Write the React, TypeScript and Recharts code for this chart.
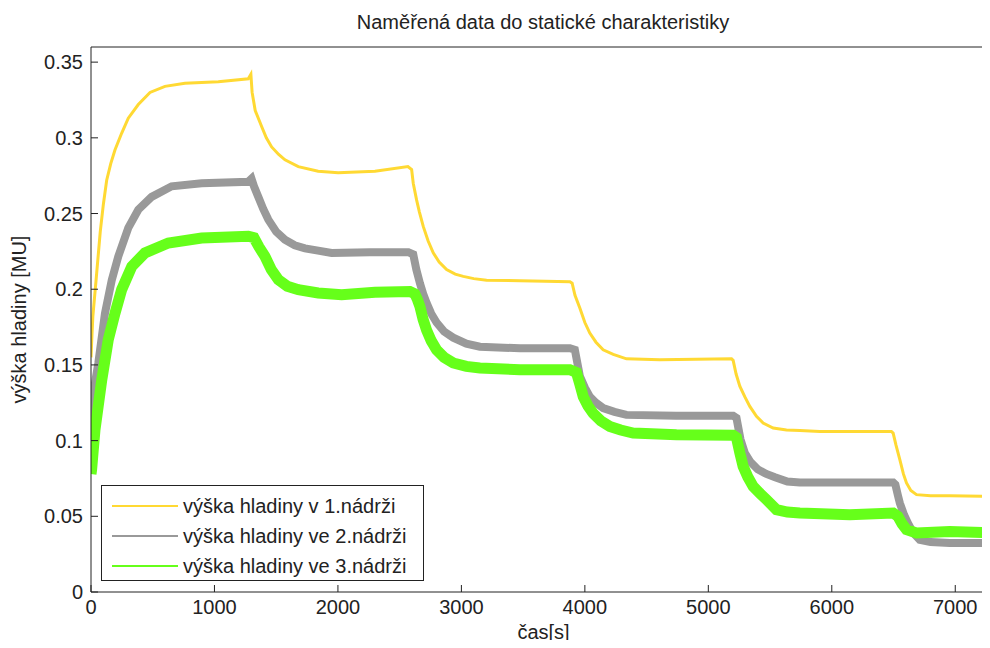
import React from "react";
import { LineChart, Line, XAxis, YAxis, Legend } from "recharts";

// cas [s] a vyska hladiny
const timeTank1 = [0, 8, 15, 40, 75, 100, 127, 160, 194, 248, 302, 383, 478, 599, 761, 1031, 1274, 1295, 1305, 1330, 1382, 1420, 1463, 1520, 1571, 1679, 1840, 2002, 2300, 2567, 2597, 2610, 2637, 2660, 2691, 2730, 2772, 2820, 2880, 2950, 3015, 3100, 3204, 3474, 3879, 3897, 3920, 3960, 4000, 4040, 4090, 4148, 4230, 4337, 4607, 5188, 5201, 5225, 5255, 5295, 5336, 5390, 5444, 5525, 5633, 5741, 5903, 6483, 6497, 6520, 6551, 6580, 6605, 6640, 6686, 6800, 6955, 7330];
const levelTank1 = [0.155, 0.17, 0.182, 0.205, 0.238, 0.256, 0.272, 0.283, 0.292, 0.303, 0.313, 0.322, 0.33, 0.334, 0.336, 0.337, 0.339, 0.342, 0.33, 0.318, 0.3075, 0.3, 0.294, 0.289, 0.2855, 0.281, 0.278, 0.277, 0.278, 0.281, 0.279, 0.27, 0.259, 0.251, 0.2415, 0.232, 0.224, 0.218, 0.213, 0.21, 0.2085, 0.207, 0.206, 0.2056, 0.205, 0.204, 0.196, 0.1875, 0.178, 0.171, 0.165, 0.16, 0.157, 0.154, 0.1534, 0.154, 0.153, 0.144, 0.136, 0.129, 0.1226, 0.116, 0.1116, 0.1083, 0.107, 0.1067, 0.106, 0.106, 0.105, 0.097, 0.0874, 0.078, 0.072, 0.067, 0.0643, 0.0636, 0.0636, 0.0632];

const timeTank2 = [0, 5, 59, 113, 168, 221, 302, 383, 491, 653, 896, 1274, 1300, 1320, 1355, 1395, 1436, 1500, 1571, 1650, 1733, 1949, 2259, 2570, 2610, 2635, 2664, 2690, 2718, 2755, 2799, 2860, 2934, 3040, 3150, 3474, 3879, 3919, 3940, 3960, 4000, 4040, 4090, 4148, 4240, 4337, 4742, 5201, 5228, 5260, 5295, 5340, 5400, 5470, 5540, 5640, 5741, 6497, 6515, 6535, 6551, 6585, 6620, 6660, 6712, 6800, 6955, 7330];
const levelTank2 = [0.105, 0.125, 0.151, 0.184, 0.206, 0.2217, 0.2405, 0.2525, 0.261, 0.268, 0.27, 0.271, 0.273, 0.268, 0.261, 0.253, 0.246, 0.238, 0.2327, 0.229, 0.227, 0.224, 0.2245, 0.2245, 0.223, 0.213, 0.204, 0.197, 0.191, 0.184, 0.178, 0.172, 0.168, 0.164, 0.162, 0.161, 0.161, 0.16, 0.151, 0.1424, 0.135, 0.129, 0.125, 0.1215, 0.119, 0.117, 0.1165, 0.1165, 0.115, 0.101, 0.092, 0.086, 0.081, 0.078, 0.0758, 0.073, 0.0724, 0.0724, 0.071, 0.064, 0.0588, 0.051, 0.045, 0.039, 0.0345, 0.033, 0.0324, 0.0324];

const timeTank3 = [0, 5, 32, 87, 140, 194, 248, 330, 437, 626, 896, 1274, 1320, 1360, 1409, 1460, 1517, 1590, 1679, 1840, 2030, 2300, 2583, 2623, 2645, 2664, 2690, 2718, 2755, 2799, 2860, 2934, 3040, 3150, 3474, 3879, 3932, 3960, 3987, 4025, 4068, 4130, 4202, 4290, 4391, 4742, 5201, 5228, 5255, 5282, 5320, 5363, 5420, 5471, 5552, 5640, 5741, 6146, 6497, 6535, 6570, 6605, 6686, 6955, 7330];
const levelTank3 = [0.078, 0.081, 0.107, 0.14, 0.1667, 0.184, 0.1997, 0.215, 0.224, 0.2305, 0.2338, 0.235, 0.234, 0.228, 0.2217, 0.213, 0.2063, 0.202, 0.1997, 0.1975, 0.1964, 0.198, 0.1985, 0.197, 0.193, 0.1886, 0.18, 0.173, 0.166, 0.16, 0.155, 0.1513, 0.149, 0.148, 0.1468, 0.1468, 0.145, 0.137, 0.129, 0.123, 0.118, 0.113, 0.1094, 0.107, 0.105, 0.1039, 0.1035, 0.102, 0.092, 0.083, 0.076, 0.0697, 0.065, 0.061, 0.0544, 0.0528, 0.0522, 0.051, 0.0522, 0.05, 0.045, 0.0412, 0.039, 0.04, 0.039];

const xTicks = [0, 1000, 2000, 3000, 4000, 5000, 6000, 7000];
const yTicks = [0, 0.05, 0.1, 0.15, 0.2, 0.25, 0.3, 0.35];

const seriesNames = [
  "výška hladiny v 1.nádrži",
  "výška hladiny ve 2.nádrži",
  "výška hladiny ve 3.nádrži",
];
const seriesColors = ["#ffd933", "#999999", "#66ff1a"];
const seriesWidths = [3, 8, 11];

const toPoints = (t: number[], v: number[]) => t.map((x, i) => ({ t: x, v: v[i] }));
const seriesData = [
  toPoints(timeTank1, levelTank1),
  toPoints(timeTank2, levelTank2),
  toPoints(timeTank3, levelTank3),
];

const FONT = '"Liberation Sans", Arial, Helvetica, sans-serif';
const INK = "#222";
const tickStyle = { fontSize: 20, fill: INK, fontFamily: FONT };

const renderLegend = () => (
  <div
    style={{
      border: `1px solid ${INK}`,
      background: "#fff",
      padding: "5px 10px 0 10px",
      height: 96,
      width: 323,
      boxSizing: "border-box",
      fontFamily: FONT,
      fontSize: 20,
      color: INK,
    }}
  >
    {seriesNames.map((name, i) => (
      <div key={name} style={{ display: "flex", alignItems: "center", height: 30 }}>
        <div style={{ width: 66, borderTop: `2px solid ${seriesColors[i]}`, marginRight: 5 }} />
        <span>{name}</span>
      </div>
    ))}
  </div>
);

const App: React.FC = () => {
  return (
    <div style={{ margin: -8, width: 990, height: 648, overflow: "hidden", background: "#fff" }}>
      <LineChart width={1000} height={648} margin={{ top: 46, right: 4, left: 0, bottom: 0 }}>
        <text x={543} y={29} textAnchor="middle" fontSize={20} fill={INK} fontFamily={FONT}>
          Naměřená data do statické charakteristiky
        </text>
        <XAxis
          dataKey="t"
          type="number"
          domain={[0, 7330]}
          ticks={xTicks}
          allowDataOverflow
          height={56}
          stroke={INK}
          tickSize={-7}
          tickMargin={15}
          tick={tickStyle}
          label={{
            content: ({ viewBox }: any) => (
              <text
                x={viewBox.x + viewBox.width / 2}
                y={viewBox.y + 47}
                textAnchor="middle"
                fontSize={20}
                fill={INK}
                fontFamily={FONT}
              >
                čas[s]
              </text>
            ),
          }}
        />
        <XAxis
          xAxisId="top"
          orientation="top"
          type="number"
          domain={[0, 7330]}
          ticks={xTicks}
          allowDataOverflow
          height={1}
          stroke={INK}
          tickSize={-7}
          tick={false}
        />
        <YAxis
          type="number"
          domain={[0, 0.36]}
          ticks={yTicks}
          allowDataOverflow
          width={91}
          stroke={INK}
          tickSize={-7}
          tickMargin={15}
          tick={tickStyle}
          label={{
            content: ({ viewBox }: any) => {
              const cx = viewBox.x + 19;
              const cy = viewBox.y + viewBox.height / 2;
              return (
                <text
                  x={cx}
                  y={cy}
                  transform={`rotate(-90 ${cx} ${cy})`}
                  textAnchor="middle"
                  dominantBaseline="central"
                  fontSize={20}
                  fill={INK}
                  fontFamily={FONT}
                >
                  výška hladiny [MU]
                </text>
              );
            },
          }}
        />
        <YAxis
          yAxisId="right"
          orientation="right"
          type="number"
          domain={[0, 0.36]}
          ticks={yTicks}
          width={0}
          stroke={INK}
          tickSize={-7}
          tick={false}
        />
        <Legend
          layout="vertical"
          align="center"
          verticalAlign="middle"
          content={renderLegend}
          wrapperStyle={{ left: 101, top: 485, width: 324, height: 97 }}
        />
        {seriesData.map((pts, i) => (
          <Line
            key={seriesNames[i]}
            data={pts}
            dataKey="v"
            name={seriesNames[i]}
            type="linear"
            stroke={seriesColors[i]}
            strokeWidth={seriesWidths[i]}
            dot={false}
            activeDot={false}
            isAnimationActive={false}
          />
        ))}
      </LineChart>
    </div>
  );
};

export default App;
